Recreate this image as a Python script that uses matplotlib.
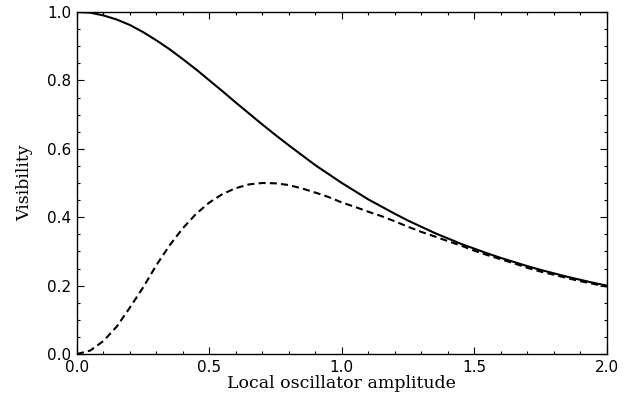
import numpy as np
import matplotlib
matplotlib.use("Agg")
import matplotlib.pyplot as plt
from matplotlib.ticker import MultipleLocator

# local oscillator amplitude
amp = [0.00, 0.05, 0.10, 0.15, 0.20, 0.25, 0.30, 0.35, 0.40, 0.45,
       0.50, 0.55, 0.60, 0.65, 0.70, 0.75, 0.80, 0.85, 0.90, 0.95,
       1.00, 1.05, 1.10, 1.15, 1.20, 1.25, 1.30, 1.35, 1.40, 1.45,
       1.50, 1.55, 1.60, 1.65, 1.70, 1.75, 1.80, 1.85, 1.90, 1.95, 2.00]

# solid curve
vis_solid = [1.000, 0.998, 0.990, 0.978, 0.962, 0.941, 0.917, 0.891, 0.862, 0.832,
             0.800, 0.768, 0.735, 0.703, 0.671, 0.640, 0.610, 0.581, 0.552, 0.526,
             0.500, 0.476, 0.452, 0.431, 0.410, 0.390, 0.372, 0.354, 0.338, 0.322,
             0.308, 0.294, 0.281, 0.269, 0.257, 0.246, 0.236, 0.226, 0.217, 0.208, 0.200]

# dashed curve
vis_dashed = [0.000, 0.010, 0.038, 0.080, 0.136, 0.195, 0.260, 0.318, 0.368, 0.410,
              0.443, 0.468, 0.485, 0.496, 0.500, 0.499, 0.494, 0.484, 0.472, 0.459,
              0.443, 0.430, 0.416, 0.403, 0.388, 0.372, 0.357, 0.344, 0.330, 0.317,
              0.302, 0.289, 0.277, 0.265, 0.252, 0.241, 0.232, 0.222, 0.213, 0.205, 0.197]

fig = plt.figure(figsize=(6.36, 4.0), dpi=100)
ax = fig.add_axes([0.121, 0.115, 0.833, 0.855])

ax.plot(amp, vis_solid, color="black", lw=1.5)
line, = ax.plot(amp, vis_dashed, color="black", lw=1.5)
line.set_dashes([3.4, 2.0])

ax.set_xlim(0, 2)
ax.set_ylim(0, 1)
ax.xaxis.set_major_locator(MultipleLocator(0.5))
ax.xaxis.set_minor_locator(MultipleLocator(0.1))
ax.yaxis.set_major_locator(MultipleLocator(0.2))
ax.yaxis.set_minor_locator(MultipleLocator(0.05))
ax.xaxis.set_major_formatter(plt.FormatStrFormatter("%.1f"))
ax.yaxis.set_major_formatter(plt.FormatStrFormatter("%.1f"))

ax.tick_params(which="both", direction="in", top=True, right=True, width=0.8)
ax.tick_params(which="major", length=5, labelsize=11, pad=4)
ax.tick_params(which="minor", length=2.5)
for lab in ax.get_xticklabels() + ax.get_yticklabels():
    lab.set_fontfamily("DejaVu Sans")
for sp in ax.spines.values():
    sp.set_linewidth(1.0)

ax.set_xlabel("Local oscillator amplitude", family="DejaVu Serif", fontsize=12.5, labelpad=0)
ax.set_ylabel("Visibility", family="DejaVu Serif", fontsize=12.5, labelpad=10)

fig.savefig("out.png", dpi=100)
